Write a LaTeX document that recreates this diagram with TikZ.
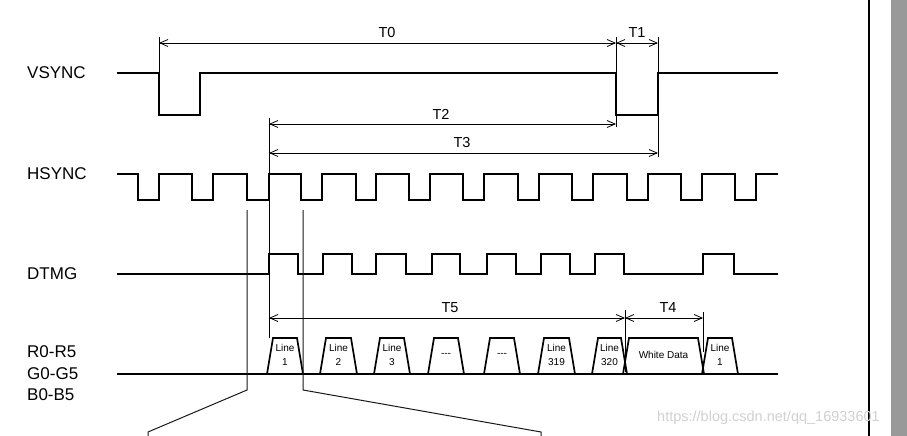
\documentclass[tikz,border=0pt]{standalone}
\usepackage{fontspec}
\setmainfont{Liberation Sans}
\usetikzlibrary{arrows.meta}
\tikzset{
  sig/.style={line width=1.7pt, line join=miter},
  dim/.style={line width=0.8pt, {Straight Barb[length=8pt,width=7pt]}-{Straight Barb[length=8pt,width=7pt]}},
  ext/.style={line width=0.8pt},
  zoomline/.style={line width=1pt, black!90},
  siglabel/.style={anchor=west, inner sep=0pt, font=\fontsize{17}{17}\selectfont},
  tlabel/.style={inner sep=0pt, font=\fontsize{14.5}{14.5}\selectfont},
  hextext/.style={inner sep=0pt, align=center, font=\fontsize{10}{14}\selectfont},
}
\newcommand\hexa[4]{%
  \draw[sig] (#2,374) -- ({#2+3},356) -- ({#2+6},338) -- ({#3-6},338) -- ({#3-3},356) -- (#3,374);
  \node[hextext] (#1) at ({(#2+#3)/2},355) {#4};}
\begin{document}
\begin{tikzpicture}[x=1pt,y=-1pt]
\fill[white] (0,0) rectangle (907,436);
\path[use as bounding box] (0,0) rectangle (907,436);
% right border
\fill[black!40] (891,0) rectangle (907,436);
\draw[line width=2pt] (869,0) -- (869,436);
% signal labels
\node[siglabel] (lv) at (27,73) {VSYNC};
\node[siglabel] (lh) at (27,174) {HSYNC};
\node[siglabel] (ld) at (27,274) {DTMG};
\node[siglabel] (lr) at (27,352) {R0-R5};
\node[siglabel] (lg) at (27,374) {G0-G5};
\node[siglabel] (lb) at (27,395) {B0-B5};
% VSYNC
\draw[sig] (117,73) -- (159,73) -- (159,115) -- (200,115) -- (200,73) -- (616,73) -- (616,115) -- (658,115) -- (658,73) -- (778,73);
% HSYNC
\draw[sig] (117,174) -- (138,174) -- (138,200) -- (159,200) -- (159,174) -- (192,174) -- (192,200) -- (213,200) -- (213,174) -- (247,174) -- (247,200) -- (269,200) -- (269,174) -- (301,174) -- (301,200) -- (322,200) -- (322,174) -- (356,174) -- (356,200) -- (376,200) -- (376,174) -- (409,174) -- (409,200) -- (430,200) -- (430,174) -- (463,174) -- (463,200) -- (484,200) -- (484,174) -- (518,174) -- (518,200) -- (539,200) -- (539,174) -- (572,174) -- (572,200) -- (593,200) -- (593,174) -- (627,174) -- (627,200) -- (648,200) -- (648,174) -- (681,174) -- (681,200) -- (702,200) -- (702,174) -- (735,174) -- (735,200) -- (756,200) -- (756,174) -- (778,174);
% DTMG
\draw[sig] (117,274) -- (269,274) -- (269,254) -- (298,254) -- (298,274) -- (323,274) -- (323,254) -- (352,254) -- (352,274) -- (376,274) -- (376,254) -- (406,254) -- (406,274) -- (432,274) -- (432,254) -- (460,254) -- (460,274) -- (487,274) -- (487,254) -- (516,254) -- (516,274) -- (541,274) -- (541,254) -- (570,254) -- (570,274) -- (595,274) -- (595,254) -- (624,254) -- (624,274) -- (703,274) -- (703,254) -- (734,254) -- (734,274) -- (778,274);
% data bus
\draw[sig] (117,374) -- (778,374);
\hexa{l1}{267}{303}{Line\\1}
\hexa{l2}{320}{357}{Line\\2}
\hexa{l3}{374}{410}{Line\\3}
\hexa{d1}{428}{464}{-{}-{}-}
\hexa{d2}{484}{520}{-{}-{}-}
\hexa{l319}{538}{575}{Line\\319}
\hexa{l320}{592}{627}{Line\\320}
\hexa{wd}{623}{704}{White Data}
\hexa{l1b}{702}{738}{Line\\1}
% extension lines
\draw[ext] (159,37) -- (159,73);
\draw[ext] (616,37) -- (616,73);
\draw[ext] (616,115) -- (616,127);
\draw[ext] (658,37) -- (658,73);
\draw[ext] (658,115) -- (658,157);
\draw[ext] (269,118) -- (269,338);
\draw[ext] (625,310) -- (625,372);
\draw[ext] (703,312) -- (703,352);
% dimension arrows
\coordinate (t0a) at (159,43); \coordinate (t0b) at (616,43);
\coordinate (t1b) at (658,43);
\coordinate (t2a) at (269,124); \coordinate (t2b) at (616,124);
\coordinate (t3a) at (269,153); \coordinate (t3b) at (658,153);
\coordinate (t5a) at (269,318); \coordinate (t5b) at (625,318);
\coordinate (t4b) at (703,318);
\draw[dim] (t0a) -- (t0b);
\draw[dim] (t0b) -- (t1b);
\draw[dim] (t2a) -- (t2b);
\draw[dim] (t3a) -- (t3b);
\draw[dim] (t5a) -- (t5b);
\draw[dim] (t5b) -- (t4b);
\node[tlabel] (T0) at (387,33) {T0};
\node[tlabel] (T1) at (637,33) {T1};
\node[tlabel] (T2) at (441,114) {T2};
\node[tlabel] (T3) at (462,143) {T3};
\node[tlabel] (T5) at (450,308) {T5};
\node[tlabel] (T4) at (668,308) {T4};
% zoom lines
\draw[zoomline] (247,210) -- (247,390) -- (148,432) -- (148,436);
\draw[zoomline] (303,210) -- (303,390) -- (541,432) -- (541,436);
% watermark
\node[anchor=west, inner sep=0pt, text=black!18, font=\fontsize{14.5}{14.5}\selectfont] (wm) at (657,418) {https://blog.csdn.net/qq\_16933601};
\end{tikzpicture}
\end{document}
